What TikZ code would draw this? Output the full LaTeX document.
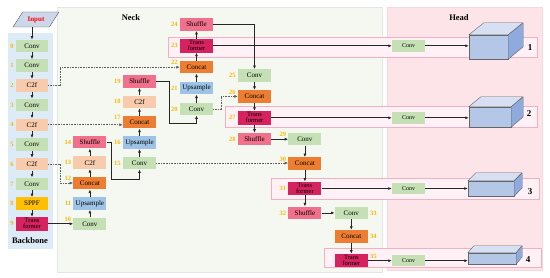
\documentclass[tikz,border=0pt]{standalone}
\usepackage{fontspec}
\setmainfont{Liberation Serif}
\usepackage{xcolor}
\usetikzlibrary{shapes.geometric, arrows.meta, positioning, backgrounds, calc}
\definecolor{convgreen}{RGB}{197,224,180}
\definecolor{c2fpeach}{RGB}{248,203,173}
\definecolor{upsblue}{RGB}{157,195,230}
\definecolor{catorange}{RGB}{237,125,49}
\definecolor{shufpink}{RGB}{241,112,140}
\definecolor{transred}{RGB}{214,34,94}
\definecolor{sppfgold}{RGB}{255,192,0}
\definecolor{idxgold}{RGB}{250,185,0}
\definecolor{bbfill}{RGB}{221,235,247}
\definecolor{neckfill}{RGB}{245,248,240}
\definecolor{neckline}{RGB}{228,230,226}
\definecolor{headfill}{RGB}{253,228,233}
\definecolor{headline}{RGB}{248,214,221}
\definecolor{rowfill}{RGB}{255,241,246}
\definecolor{rowline}{RGB}{242,176,195}
\definecolor{cubeblue}{RGB}{180,199,231}
\definecolor{cubetopc}{RGB}{214,224,242}
\definecolor{cubesidec}{RGB}{143,170,220}
\definecolor{inpfill}{RGB}{204,215,234}
\tikzset{
  blk/.style={
    rectangle, inner sep=0pt,
    minimum width=33pt, minimum height=12.5pt,
    align=center, font=\fontsize{7}{7}\selectfont
  },
  conv/.style={blk, fill=convgreen},
  ctwof/.style={blk, fill=c2fpeach},
  upsam/.style={blk, fill=upsblue},
  concat/.style={blk, fill=catorange},
  shuffle/.style={blk, fill=shufpink},
  trans/.style={blk, fill=transred, minimum height=13.5pt, font=\fontsize{6.5}{5.8}\selectfont},
  sppf/.style={blk, fill=sppfgold},
  bb/.style={minimum width=32pt},
  hconv/.style={blk, fill=convgreen, minimum height=11.5pt, font=\fontsize{6}{6}\selectfont},
  inp/.style={
    trapezium, trapezium left angle=45, trapezium right angle=135,
    trapezium stretches=true, minimum width=46pt, minimum height=15pt,
    inner sep=0pt, draw=black!65, line width=0.4pt, fill=inpfill,
    text=red, font=\fontsize{7}{7}\selectfont\bfseries
  },
  idx/.style={text=idxgold, font=\fontsize{6.5}{6.5}\selectfont\bfseries, inner sep=0.5pt, label distance=1.5pt},
  idxup/.style={idx, yshift=4.5pt},
  ptitle/.style={font=\fontsize{8.5}{8.5}\selectfont\bfseries, inner sep=0pt},
  hnum/.style={font=\fontsize{9}{9}\selectfont\bfseries, inner sep=0pt},
  cubefront/.style={rectangle, inner sep=0pt, draw=black!60, line width=0.4pt, fill=cubeblue},
  cubetop/.style={draw=black!60, line width=0.4pt, fill=cubetopc, line join=round},
  cubeside/.style={draw=black!60, line width=0.4pt, fill=cubesidec, line join=round},
  rowbox/.style={draw=rowline, fill=rowfill, line width=0.8pt},
  arr/.style={-{Latex[length=3.5pt,width=3pt]}, line width=0.7pt, black!85},
  outarr/.style={-{Latex[length=3.5pt,width=3pt]}, line width=1.1pt, black!85},
  skiparr/.style={-{Latex[length=3.5pt,width=3pt]}, line width=0.6pt, gray!75!black, dash pattern=on 1pt off 0.6pt}
}
\begin{document}
\begin{tikzpicture}[x=1pt, y=-1pt]
  \useasboundingbox (0,0) rectangle (550,278);

  % ---- Backbone ----
  \node[inp] (inp) at (36,19.5) {Input};
  \node[conv, bb, label={[idx]left:0}] (c0) at (32,46) {Conv};
  \node[conv, bb, below=6.8pt of c0, label={[idx]left:1}] (c1) {Conv};
  \node[ctwof, bb, below=6.8pt of c1, label={[idx]left:2}] (f2) {C2f};
  \node[conv, bb, below=6.8pt of f2, label={[idx]left:3}] (c3) {Conv};
  \node[ctwof, bb, below=6.8pt of c3, label={[idx]left:4}] (f4) {C2f};
  \node[conv, bb, below=6.8pt of f4, label={[idx]left:5}] (c5) {Conv};
  \node[ctwof, bb, below=6.8pt of c5, label={[idx]left:6}] (f6) {C2f};
  \node[conv, bb, below=6.8pt of f6, label={[idx]left:7}] (c7) {Conv};
  \node[sppf, bb, below=6.8pt of c7, label={[idx]left:8}] (s8) {SPPF};
  \node[trans, bb, below=6.8pt of s8, label={[idx]left:9}] (t9) {Trans\\former};
  \node[ptitle] (bbone) at (30,241) {Backbone};

  % ---- Neck ----
  \node[ptitle] (neck) at (131,18) {Neck};
  \node[conv, right=25pt of t9, label={[idxup]left:10}] (c10) {Conv};
  \node[upsam, above=7.5pt of c10, label={[idx]left:11}] (u11) {Upsample};
  \node[concat, above=7.5pt of u11, label={[idxup]left:12}] (cc12) {Concat};
  \node[ctwof, above=7.5pt of cc12, label={[idx]left:13}] (f13) {C2f};
  \node[shuffle, above=7.5pt of f13, label={[idx]left:14}] (s14) {Shuffle};

  \node[conv, label={[idx]left:15}] (c15) at (139.5,163) {Conv};
  \node[upsam, above=7.5pt of c15, label={[idx]left:16}] (u16) {Upsample};
  \node[concat, above=7.5pt of u16, label={[idxup]left:17}] (cc17) {Concat};
  \node[ctwof, above=7.5pt of cc17, label={[idx]left:18}] (f18) {C2f};
  \node[shuffle, above=7.5pt of f18, label={[idx]left:19}] (s19) {Shuffle};

  \node[conv, label={[idx]left:20}] (c20) at (196.5,109) {Conv};
  \node[upsam, above=8pt of c20, label={[idx]left:21}] (u21) {Upsample};
  \node[concat, above=8pt of u21, label={[idxup]left:22}] (cc22) {Concat};
  \node[trans, above=8pt of cc22, label={[idx]left:23}] (t23) {Trans\\former};
  \node[shuffle, above=8pt of t23, label={[idx]left:24}] (s24) {Shuffle};

  \node[conv, label={[idx]left:25}] (c25) at (254.5,75.5) {Conv};
  \node[concat, below=8pt of c25, label={[idxup]left:26}] (cc26) {Concat};
  \node[trans, below=8pt of cc26, label={[idx]left:27}] (t27) {Trans\\former};
  \node[shuffle, below=8pt of t27, label={[idx]left:28}] (s28) {Shuffle};

  \node[conv, right=17pt of s28, label={[idxup]left:29}] (c29) {Conv};
  \node[concat, below=11.5pt of c29, label={[idxup]left:30}] (cc30) {Concat};
  \node[trans, below=11.5pt of cc30, label={[idx]left:31}] (t31) {Trans\\former};
  \node[shuffle, below=11pt of t31, label={[idx]left:32}] (s32) {Shuffle};

  \node[conv, right=13pt of s32, label={[idx]right:33}] (c33) {Conv};
  \node[concat, below=10.5pt of c33, label={[idx]right:34}] (cc34) {Concat};
  \node[trans, below=11pt of cc34, label={[idxup]right:35}] (t35) {Trans\\former};

  % ---- Head ----
  \node[ptitle] (head) at (459,18) {Head};
  \coordinate (hx) at (408.5,0);
  \node[hconv] (h1) at (t23 -| hx) {Conv};
  \node[hconv] (h2) at (t27 -| hx) {Conv};
  \node[hconv] (h3) at (t31 -| hx) {Conv};
  \node[hconv] (h4) at (t35 -| hx) {Conv};

  \node[cubefront, minimum width=39pt, minimum height=24pt] (q1) at (488.5,47) {};
  \draw[cubetop] (q1.north west) -- ++(15,-12) -- ++(39,0) -- (q1.north east) -- cycle;
  \draw[cubeside] (q1.north east) -- ++(15,-12) -- ++(0,24) -- (q1.south east) -- cycle;
  \node[cubefront, minimum width=42pt, minimum height=20pt] (q2) at (490,117) {};
  \draw[cubetop] (q2.north west) -- ++(12,-10) -- ++(42,0) -- (q2.north east) -- cycle;
  \draw[cubeside] (q2.north east) -- ++(12,-10) -- ++(0,20) -- (q2.south east) -- cycle;
  \node[cubefront, minimum width=46pt, minimum height=15pt] (q3) at (491,188.5) {};
  \draw[cubetop] (q3.north west) -- ++(8,-8) -- ++(46,0) -- (q3.north east) -- cycle;
  \draw[cubeside] (q3.north east) -- ++(8,-8) -- ++(0,15) -- (q3.south east) -- cycle;
  \node[cubefront, minimum width=48pt, minimum height=11pt] (q4) at (492,258.5) {};
  \draw[cubetop] (q4.north west) -- ++(6,-7) -- ++(48,0) -- (q4.north east) -- cycle;
  \draw[cubeside] (q4.north east) -- ++(6,-7) -- ++(0,11) -- (q4.south east) -- cycle;

  \node[hnum] (k1) at (530,48) {1};
  \node[hnum] (k2) at (529,114) {2};
  \node[hnum] (k3) at (530,192) {3};
  \node[hnum] (k4) at (528,260) {4};

  % ---- Arrows ----
  \draw[arr] (inp.south -| c0.north) -- (c0.north);
  \draw[arr] (c0) -- (c1);
  \draw[arr] (c1) -- (f2);
  \draw[arr] (f2) -- (c3);
  \draw[arr] (c3) -- (f4);
  \draw[arr] (f4) -- (c5);
  \draw[arr] (c5) -- (f6);
  \draw[arr] (f6) -- (c7);
  \draw[arr] (c7) -- (s8);
  \draw[arr] (s8) -- (t9);
  \draw[arr] (t9) -- (c10);

  \draw[arr] (c10) -- (u11);
  \draw[arr] (u11) -- (cc12);
  \draw[arr] (cc12) -- (f13);
  \draw[arr] (f13) -- (s14);
  \draw[arr] (s14.east) -- ++(5,0) |- ([yshift=-10pt]c15.south) -- (c15.south);

  \draw[arr] (c15) -- (u16);
  \draw[arr] (u16) -- (cc17);
  \draw[arr] (cc17) -- (f18);
  \draw[arr] (f18) -- (s19);
  \draw[arr] (s19.east) -- ++(13,0) |- ([yshift=-8pt]c20.south) -- (c20.south);

  \draw[arr] (c20) -- (u21);
  \draw[arr] (u21) -- (cc22);
  \draw[arr] (cc22) -- (t23);
  \draw[arr] (t23) -- (s24);
  \draw[arr] (s24.east) -| (c25.north);

  \draw[arr] (c25) -- (cc26);
  \draw[arr] (cc26) -- (t27);
  \draw[arr] (t27) -- (s28);
  \draw[arr] (s28) -- (c29);
  \draw[arr] (c29) -- (cc30);
  \draw[arr] (cc30) -- (t31);
  \draw[arr] (t31) -- (s32);
  \draw[arr] (s32) -- (c33);
  \draw[arr] (c33) -- (cc34);
  \draw[arr] (cc34) -- (t35);

  % skip links
  \draw[skiparr] (f2.east) -- ++(12,0) |- (cc22.west);
  \draw[skiparr] (f4.east) -- (f4.east -| cc17.west);
  \draw[skiparr] (f6.east) -- ++(12,0) |- (cc12.west);
  \draw[skiparr] (c15.east) -- (c15.east -| cc30.west);
  \draw[skiparr] (c20.east) -- ++(8,0) |- (cc26.west);

  % outputs
  \draw[outarr] (t23) -- (h1);
  \draw[outarr] (t27) -- (h2);
  \draw[outarr] (t31) -- (h3);
  \draw[outarr] (t35) -- (h4);
  \draw[arr] (h1.east) -- (h1.east -| q1.west);
  \draw[arr] (h2.east) -- (h2.east -| q2.west);
  \draw[arr] (h3.east) -- (h3.east -| q3.west);
  \draw[arr] (h4.east) -- (h4.east -| q4.west);

  % ---- Panels ----
  \begin{scope}[on background layer]
    \fill[bbfill] (8,33) rectangle (53,249);
    \draw[neckline, fill=neckfill, line width=0.6pt] (57,7) rectangle (382,272);
    \draw[headline, fill=headfill, line width=0.6pt] (387,7) rectangle (542,270);
    \draw[rowbox] (168,37) rectangle (537,57);
    \draw[rowbox] (225,106) rectangle (537,127);
    \draw[rowbox] (271,178) rectangle (539,199);
    \draw[rowbox] (324,248) rectangle (541,267);
  \end{scope}

\end{tikzpicture}
\end{document}
